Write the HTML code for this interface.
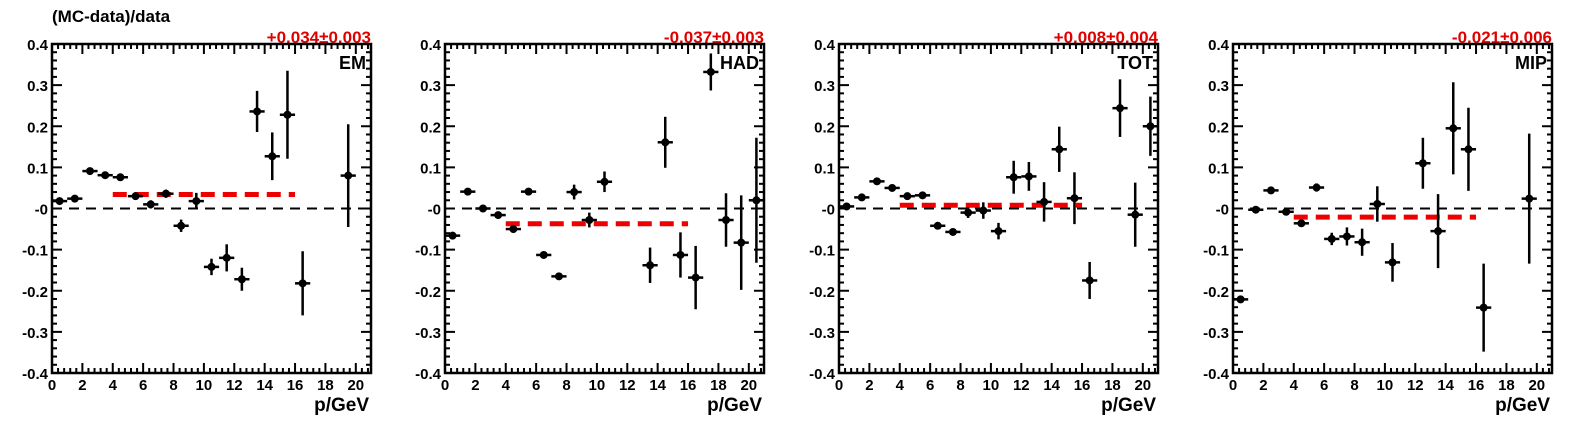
<!DOCTYPE html>
<html><head><meta charset="utf-8"><style>
html,body{margin:0;padding:0;background:#fff;}
svg text{font-family:"Liberation Sans",Arial,sans-serif;font-weight:bold;}
</style></head><body>
<svg id="c" width="1575" height="419" xmlns="http://www.w3.org/2000/svg"></svg>
<script>
const panelNames = ["EM","HAD","TOT","MIP"];
const fitValues = [0.034,-0.037,0.008,-0.021];
const fitLabels = ["+0.034\u00b10.003","-0.037\u00b10.003","+0.008\u00b10.004","-0.021\u00b10.006"];
const binCenters = [0.5,1.5,2.5,3.5,4.5,5.5,6.5,7.5,8.5,9.5,10.5,11.5,12.5,13.5,14.5,15.5,16.5,17.5,18.5,19.5,20.5];
const emVals = [0.018,0.024,0.091,0.081,0.076,0.03,0.01,0.036,-0.042,0.018,-0.142,-0.12,-0.172,0.236,0.127,0.228,-0.182,null,null,0.08,null];
const emErrs = [0.004,0.004,0.004,0.004,0.004,0.005,0.01,0.01,0.015,0.02,0.02,0.033,0.028,0.05,0.058,0.107,0.078,0,0,0.125,0];
const hadVals = [-0.066,0.041,0.0,-0.016,-0.05,0.041,-0.113,-0.165,0.04,-0.028,0.065,null,null,-0.138,0.161,-0.113,-0.168,0.332,-0.028,-0.083,0.02];
const hadErrs = [0.004,0.004,0.004,0.004,0.005,0.004,0.005,0.007,0.018,0.018,0.025,0,0,0.043,0.062,0.055,0.077,0.045,0.065,0.115,0.152];
const totVals = [0.005,0.027,0.066,0.05,0.03,0.032,-0.042,-0.057,-0.01,-0.005,-0.055,0.076,0.078,0.016,0.144,0.025,-0.175,null,0.244,-0.015,0.2];
const totErrs = [0.004,0.004,0.004,0.004,0.004,0.005,0.005,0.008,0.013,0.02,0.02,0.04,0.035,0.048,0.055,0.063,0.045,0,0.07,0.078,0.072];
const mipVals = [-0.221,-0.003,0.044,-0.008,-0.036,0.051,-0.074,-0.068,-0.082,0.011,-0.131,null,0.11,-0.055,0.195,0.144,-0.241,null,null,0.024,null];
const mipErrs = [0.004,0.004,0.004,0.004,0.006,0.01,0.015,0.022,0.033,0.043,0.047,0,0.062,0.09,0.112,0.101,0.107,0,0,0.158,0];
const yTicks = [0.4,0.3,0.2,0.1,0,-0.1,-0.2,-0.3,-0.4];
const yTickLabels = ["0.4","0.3","0.2","0.1","-0","-0.1","-0.2","-0.3","-0.4"];
const xTicks = [0,2,4,6,8,10,12,14,16,18,20];
const allVals = [emVals,hadVals,totVals,mipVals];
const allErrs = [emErrs,hadErrs,totErrs,mipErrs];

const NS="http://www.w3.org/2000/svg";
const svg=document.getElementById('c');
function mk(tag,attrs,parent){const e=document.createElementNS(NS,tag);for(const k in attrs)e.setAttribute(k,attrs[k]);(parent||svg).appendChild(e);return e;}
const lefts=[52,445,839,1233], W=319, plotTop=44, plotBot=373;
const t=mk('text',{x:52,y:22,'font-size':17});


t.textContent='(MC-data)/data';

for(let p=0;p<4;p++){
  const L=lefts[p], R=L+W;
  const g=mk('g',{});
  
  
  const X=v=>L+v*(W/21);
  const Y=v=>plotTop+(0.4-v)*((plotBot-plotTop)/0.8);
  for(let i=0;i<=40;i++){const v=-0.4+i*0.02;const maj=i%5==0;const len=maj?10:5;const y=Y(v);
    mk('line',{x1:L,x2:L+len,y1:y,y2:y,stroke:'#000','stroke-width':2},g);
    mk('line',{x1:R,x2:R-len,y1:y,y2:y,stroke:'#000','stroke-width':2},g);}
  for(let i=0;i<=52;i++){const v=i*0.4;if(v>21)break;const maj=i%5==0;const len=maj?10:5;const x=X(v);
    mk('line',{x1:x,x2:x,y1:plotBot,y2:plotBot-len,stroke:'#000','stroke-width':2},g);
    mk('line',{x1:x,x2:x,y1:plotTop,y2:plotTop+len,stroke:'#000','stroke-width':2},g);}
  yTicks.forEach((v,i)=>{const tx=mk('text',{x:L-4,y:Y(v)+6,'font-size':15,'text-anchor':'end'},g);
    
    
    tx.textContent=yTickLabels[i];});
  xTicks.forEach(v=>{const tx=mk('text',{x:X(v),y:plotBot+17,'font-size':15,'text-anchor':'middle'},g);
    
    
    tx.textContent=String(v);});
  const xl=mk('text',{x:R-2,y:411,'font-size':19,'text-anchor':'end'},g);
  
  
  xl.textContent='p/GeV';
  const fl=mk('text',{x:R,y:43,'font-size':17,'text-anchor':'end',fill:'#e00000'},g);
  
  
  fl.textContent=fitLabels[p];
  const nl=mk('text',{x:R-5,y:69,'font-size':18,'text-anchor':'end'},g);
  
  
  nl.textContent=panelNames[p];
  const zl=mk('line',{x1:X(0),x2:X(21),y1:Y(0),y2:Y(0),stroke:'#000','stroke-width':2,'stroke-dasharray':'10,7'},g);
  
  
  const fit=mk('line',{x1:X(4),x2:X(16),y1:Y(fitValues[p]),y2:Y(fitValues[p]),stroke:'#ee0000','stroke-width':5,'stroke-dasharray':'14,8'},g);
  
  
  const vals=allVals[p], errs=allErrs[p];
  binCenters.forEach((c,i)=>{const v=vals[i];if(v===null)return;
    const pg=mk('g',{},g);
    
    
    mk('line',{x1:X(c-0.5),x2:X(c+0.5),y1:Y(v),y2:Y(v),stroke:'#000','stroke-width':2.5},pg);
    mk('line',{x1:X(c),x2:X(c),y1:Y(v+errs[i]),y2:Y(v-errs[i]),stroke:'#000','stroke-width':2.5},pg);
    mk('circle',{cx:X(c),cy:Y(v),r:4,fill:'#000'},pg);});
  const fr=mk('rect',{x:L,y:plotTop,width:W,height:plotBot-plotTop,fill:'none',stroke:'#000','stroke-width':2.5},g);
  
  
}
</script>
</body></html>
